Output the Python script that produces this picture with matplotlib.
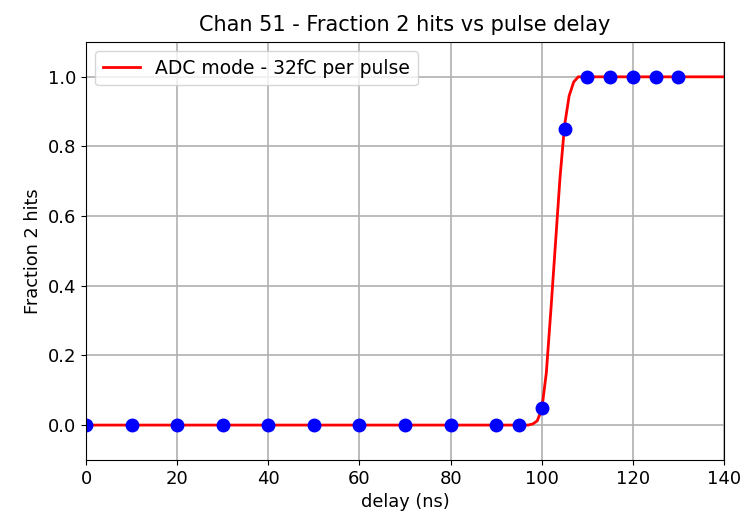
import matplotlib
matplotlib.use("Agg")
import matplotlib.pyplot as plt

# measured fraction of events with 2 hits at each pulse delay
delay = [0, 10, 20, 30, 40, 50, 60, 70, 80, 90, 95, 100, 105, 110, 115, 120, 125, 130]
frac = [0.0, 0.0, 0.0, 0.0, 0.0, 0.0, 0.0, 0.0, 0.0, 0.0, 0.0, 0.05, 0.85, 1.0, 1.0, 1.0, 1.0, 1.0]

# fitted turn-on curve
fit_x = [0, 97, 98, 99, 100, 101, 102, 103, 104, 105, 106, 107, 108, 140]
fit_y = [0.0, 0.0, 0.003, 0.012, 0.045, 0.15, 0.33, 0.52, 0.71, 0.86, 0.945, 0.985, 1.0, 1.0]

fig = plt.figure(figsize=(7.48, 5.25), dpi=100)
ax = fig.add_axes([0.115, 0.124, 0.853, 0.796])

ax.plot(fit_x, fit_y, color="red", linewidth=2, label="ADC mode - 32fC per pulse")
ax.plot(delay, frac, "o", color="blue", markersize=9)

ax.set_xlim(0, 140)
ax.set_ylim(-0.1, 1.1)
ax.set_xticks(range(0, 141, 20))
ax.set_yticks([0.0, 0.2, 0.4, 0.6, 0.8, 1.0])
ax.tick_params(labelsize=13)
ax.grid(True, color="#b0b0b0", linewidth=1.2)

ax.set_xlabel("delay (ns)", fontsize=12.8)
ax.set_ylabel("Fraction 2 hits", fontsize=12.8)
ax.set_title("Chan 51 - Fraction 2 hits vs pulse delay", fontsize=15, pad=8)
ax.legend(loc="upper left", fontsize=13.5)

fig.savefig("out.png", dpi=100)
